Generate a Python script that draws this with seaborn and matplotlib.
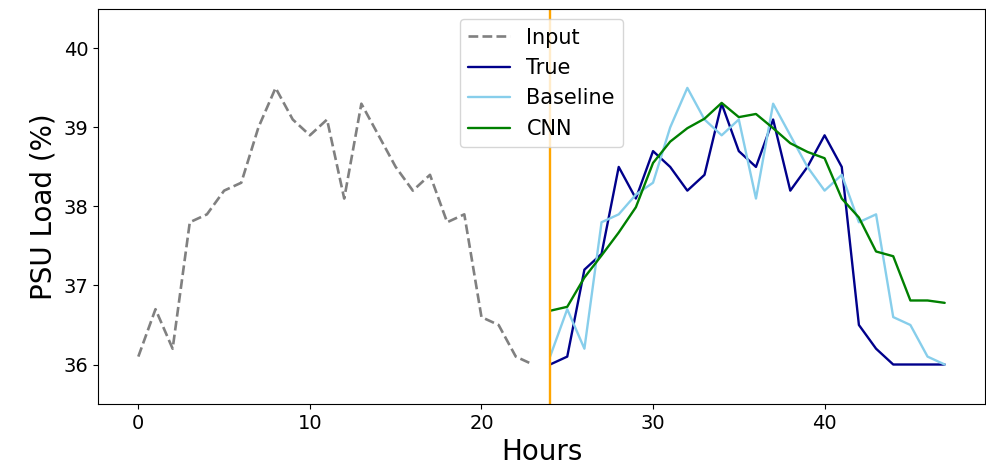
import matplotlib
matplotlib.use("Agg")
import matplotlib.pyplot as plt
import seaborn as sns
import pandas as pd

input_hours = list(range(0, 24))
input_vals = [36.1, 36.7, 36.2, 37.8, 37.9, 38.2, 38.3, 39.0, 39.5, 39.1, 38.9, 39.1,
              38.1, 39.3, 38.9, 38.5, 38.2, 38.4, 37.8, 37.9, 36.6, 36.5, 36.1, 36.0]

pred_hours = list(range(24, 48))
true_vals = [36.0, 36.1, 37.2, 37.4, 38.5, 38.1, 38.7, 38.5, 38.2, 38.4, 39.3, 38.7,
             38.5, 39.1, 38.2, 38.5, 38.9, 38.5, 36.5, 36.2, 36.0, 36.0, 36.0, 36.0]
baseline_vals = [36.1, 36.7, 36.2, 37.8, 37.9, 38.15, 38.3, 39.0, 39.5, 39.1, 38.9, 39.1,
                 38.1, 39.3, 38.9, 38.5, 38.2, 38.4, 37.8, 37.9, 36.6, 36.5, 36.1, 36.0]
cnn_vals = [36.68, 36.73, 37.1, 37.38, 37.67, 37.99, 38.55, 38.82, 38.99, 39.11, 39.31, 39.13,
            39.17, 38.99, 38.8, 38.69, 38.61, 38.1, 37.86, 37.43, 37.37, 36.81, 36.81, 36.78]

split_hour = 24

sns.set_style("ticks", rc={"axes.edgecolor": "black", "text.color": "black",
                           "axes.labelcolor": "black", "xtick.color": "black",
                           "ytick.color": "black"})
plt.rcParams['font.family'] = ['DejaVu Sans']

fig, ax = plt.subplots(figsize=(9.86, 4.66), dpi=100)
fig.subplots_adjust(left=0.0994, right=0.999, top=0.981, bottom=0.133)

df_in = pd.DataFrame({"Hours": input_hours, "Load": input_vals})
df_true = pd.DataFrame({"Hours": pred_hours, "Load": true_vals})
df_base = pd.DataFrame({"Hours": pred_hours, "Load": baseline_vals})
df_cnn = pd.DataFrame({"Hours": pred_hours, "Load": cnn_vals})

lw = 1.7
sns.lineplot(data=df_in, x="Hours", y="Load", ax=ax, color="gray", linestyle="--",
             linewidth=lw + 0.2, label="Input")
sns.lineplot(data=df_true, x="Hours", y="Load", ax=ax, color="darkblue",
             linewidth=lw, label="True")
sns.lineplot(data=df_base, x="Hours", y="Load", ax=ax, color="skyblue",
             linewidth=lw, label="Baseline")
sns.lineplot(data=df_cnn, x="Hours", y="Load", ax=ax, color="green",
             linewidth=lw, label="CNN")
ax.axvline(split_hour, color="orange", linewidth=lw)

ax.set_ylim(35.5, 40.5)
ax.set_xlabel("Hours", fontsize=20, labelpad=4)
ax.set_ylabel("PSU Load (%)", fontsize=20)
ax.tick_params(labelsize=14)
ax.set_yticks([36, 37, 38, 39, 40])
ax.set_xticks([0, 10, 20, 30, 40])
ax.legend(loc="upper center", fontsize=15, framealpha=0.8)

fig.savefig("out.png", dpi=100)
